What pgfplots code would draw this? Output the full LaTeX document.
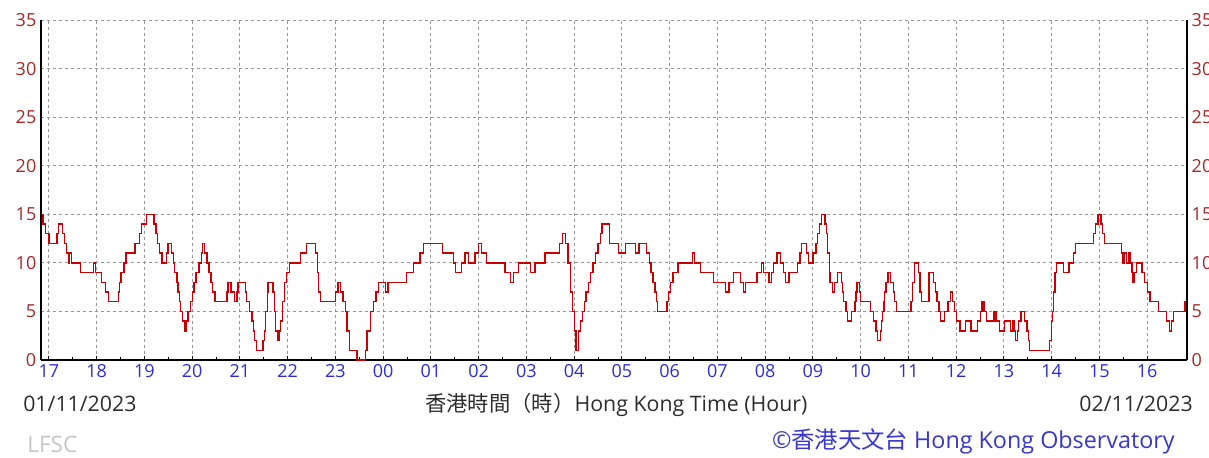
\documentclass[border=0pt]{standalone}
\usepackage{fontspec}
\setmainfont{Open Sans}
\newfontfamily\cjk{Noto Sans CJK TC}
\usepackage{pgfplots}
\pgfplotsset{compat=1.18}
\definecolor{trace}{RGB}{200,0,0}
\definecolor{ylab}{RGB}{165,40,40}
\definecolor{xlab}{RGB}{45,45,210}
\definecolor{gridc}{RGB}{150,150,150}
\definecolor{obs}{RGB}{55,55,205}
\definecolor{datec}{RGB}{45,45,45}
\pgfplotstableread{
h v
-0.17 15
-0.126 14
-0.07 13
0 12
0.168 13
0.196 14
0.28 13
0.32 12
0.364 11
0.406 10
0.434 11
0.476 10
0.658 9
0.938 10
0.98 9
1.10 8
1.19 7
1.25 6
1.45 7
1.48 8
1.51 9
1.57 10
1.61 11
1.80 12
1.89 13
1.94 14
2.04 15
2.20 14
2.24 13
2.28 12
2.31 11
2.37 10
2.46 11
2.49 12
2.57 11
2.61 10
2.63 9
2.68 8
2.70 7
2.73 6
2.76 5
2.80 4
2.84 3
2.87 4
2.91 5
2.96 6
3.00 7
3.04 8
3.08 9
3.14 10
3.19 11
3.22 12
3.26 11
3.31 10
3.35 9
3.39 8
3.43 7
3.48 6
3.73 7
3.75 8
3.81 7
3.89 6
3.94 7
3.96 8
4.11 7
4.13 6
4.20 5
4.25 4
4.29 3
4.31 2
4.34 1
4.48 2
4.51 3
4.54 5
4.57 7
4.59 8
4.69 7
4.72 5
4.75 3
4.78 2
4.82 3
4.85 4
4.89 6
4.93 8
4.97 9
5.04 10
5.27 11
5.39 12
5.58 11
5.62 9
5.65 7
5.69 6
6.00 7
6.05 8
6.10 7
6.16 6
6.21 5
6.24 3
6.30 1
6.45 0
6.63 1
6.66 3
6.73 5
6.80 6
6.85 7
6.90 8
7.05 7
7.10 8
7.49 9
7.63 10
7.77 11
7.84 12
8.24 11
8.47 10
8.52 9
8.64 10
8.71 11
8.78 10
8.92 11
8.99 12
9.06 11
9.17 10
9.55 9
9.66 8
9.73 9
9.83 10
10.08 9
10.18 10
10.39 11
10.69 12
10.76 13
10.82 12
10.87 10
10.92 7
10.96 5
11.00 3
11.04 1
11.09 3
11.13 4
11.17 5
11.21 6
11.25 7
11.30 8
11.34 9
11.39 10
11.45 11
11.50 12
11.55 13
11.58 14
11.74 12
11.93 11
12.07 12
12.28 11
12.36 12
12.52 11
12.57 10
12.61 9
12.65 8
12.69 7
12.72 6
12.75 5
12.94 6
12.98 7
13.01 8
13.07 9
13.17 10
13.48 11
13.52 10
13.64 9
13.91 8
14.17 7
14.24 8
14.34 9
14.48 8
14.54 7
14.59 8
14.83 9
14.92 10
14.97 9
15.08 8
15.13 9
15.18 10
15.25 11
15.32 10
15.38 9
15.43 8
15.50 9
15.67 10
15.73 11
15.76 12
15.87 11
15.90 10
16.00 11
16.06 12
16.09 13
16.13 14
16.18 15
16.25 14
16.28 13
16.31 11
16.34 9
16.36 8
16.41 7
16.45 8
16.52 9
16.60 8
16.62 7
16.64 6
16.69 5
16.72 4
16.81 5
16.88 6
16.90 7
16.92 8
16.97 7
17.00 6
17.20 5
17.27 4
17.32 3
17.35 2
17.41 3
17.43 4
17.46 5
17.49 6
17.50 7
17.53 8
17.57 9
17.63 8
17.69 7
17.71 6
17.75 5
18.05 6
18.08 8
18.12 10
18.21 9
18.24 7
18.27 6
18.43 9
18.53 8
18.57 7
18.60 6
18.64 5
18.67 4
18.76 5
18.83 6
18.88 7
18.92 6
18.97 5
19.01 4
19.08 3
19.20 4
19.31 3
19.45 4
19.51 5
19.54 6
19.58 5
19.64 4
19.79 5
19.83 4
19.91 3
20.01 4
20.14 3
20.18 4
20.21 3
20.24 2
20.28 3
20.31 4
20.36 5
20.43 4
20.48 3
20.52 2
20.54 1
20.96 2
20.99 4
21.01 5
21.04 7
21.07 9
21.10 10
21.25 9
21.36 10
21.46 11
21.50 12
21.88 13
21.92 14
21.97 15
22.03 14
22.07 13
22.11 12
22.46 11
22.49 10
22.53 11
22.57 10
22.61 11
22.64 10
22.68 9
22.70 8
22.73 9
22.78 10
22.89 9
22.94 8
23.01 7
23.06 6
23.24 5
23.40 4
23.47 3
23.51 4
23.55 5
23.79 6
23.84 6
}\windtable
\begin{document}
\begin{tikzpicture}
\path[use as bounding box] (-30.75pt,-72.75pt) rectangle (876pt,270pt);
\begin{axis}[
 at={(0,0)}, anchor=south west,
 scale only axis, width=859.5pt, height=255pt,
 xmin=-0.1667, xmax=23.8333, ymin=0, ymax=35,
 axis x line*=bottom, axis y line*=left,
 axis line style={-, black, line width=0.9pt},
 xtick={0,...,23},
 xticklabels={17,18,19,20,21,22,23,00,01,02,03,04,05,06,07,08,09,10,11,12,13,14,15,16},
 minor x tick num=1,
 ytick={0,5,...,35},
 grid=major,
 major grid style={gridc, line width=0.75pt, dash pattern=on 2.25pt off 2.25pt},
 xticklabel style={text=xlab, font=\fontsize{13.5}{13.5}\selectfont},
 yticklabel style={text=ylab, font=\fontsize{13.5}{13.5}\selectfont},
 /pgf/number format/assume math mode=true,
 major tick length=3pt, minor tick length=2.5pt,
 xtick style={black, line width=0.75pt},
 ytick style={draw=none},
]
\addplot[const plot, trace, line width=1pt] table[x=h, y=v] {\windtable};
\end{axis}
\begin{axis}[
 at={(0,0)}, anchor=south west,
 scale only axis, width=859.5pt, height=255pt,
 xmin=-0.1667, xmax=23.8333, ymin=0, ymax=35,
 axis y line*=right, axis x line=none,
 axis line style={-, black, line width=0.9pt},
 ytick={0,5,...,35},
 ytick style={draw=none},
 yticklabel style={text=ylab, font=\fontsize{13.5}{13.5}\selectfont},
 /pgf/number format/assume math mode=true,
]
\addplot[draw=none] coordinates {(0,0)};
\end{axis}
\begin{scope}[x=0.75pt, y=-0.75pt, shift={(-30.75pt,270pt)}]
\node[anchor=base west, inner sep=0, text=datec, font=\fontsize{16}{16}\selectfont] at (23,411) {01/11/2023};
\node[anchor=base east, inner sep=0, text=datec, font=\fontsize{16}{16}\selectfont] at (1193,411) {02/11/2023};
\node[anchor=base west, inner sep=0, text=datec, font=\fontsize{16}{16}\selectfont] at (425,411) {{\cjk 香港時間（時）}Hong Kong Time (Hour)};
\node[anchor=base west, inner sep=0, text=gray!45, font=\fontsize{17}{17}\selectfont] at (27,452) {LFSC};
\node[anchor=base east, inner sep=0, text=obs, font=\fontsize{17.5}{17.5}\selectfont] at (1175,448) {©{\cjk 香港天文台} Hong Kong Observatory};
\end{scope}
\end{tikzpicture}
\end{document}
